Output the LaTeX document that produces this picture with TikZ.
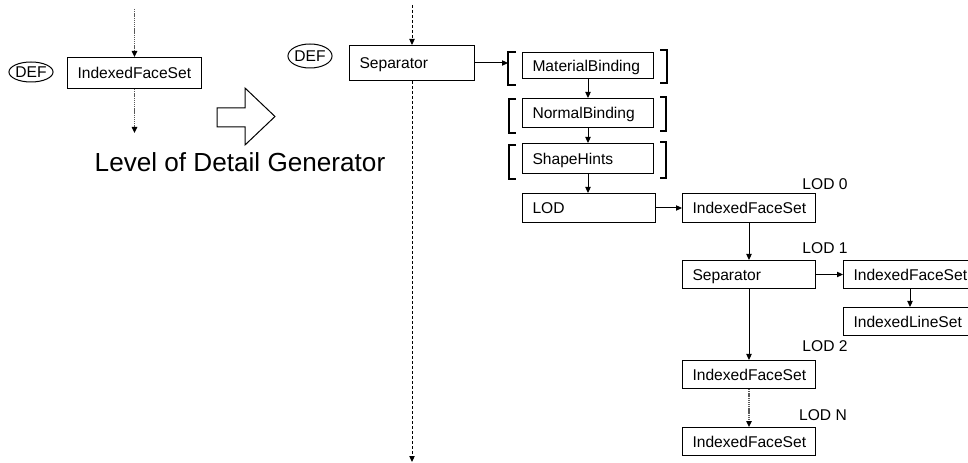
\documentclass[tikz,border=0pt]{standalone}
\usepackage{fontspec}
\setmainfont{Liberation Sans}
\usetikzlibrary{arrows.meta,calc,shapes.geometric}
\begin{document}
\begin{tikzpicture}[x=0.75pt,y=-0.75pt,
  every node/.style={font=\fontsize{11.7pt}{13pt}\selectfont},
  box/.style={draw, line width=0.75pt, rectangle, anchor=north west, inner xsep=7.5pt, inner ysep=0pt, align=left, text height=8.3pt, text depth=0pt},
  wa/.style={text width=84.75pt},
  wb/.style={text width=83.25pt},
  wc/.style={text width=85.5pt},
  wd/.style={text width=78.75pt},
  defnode/.style={draw, ellipse, line width=0.75pt, inner sep=0pt, minimum width=31.5pt, minimum height=15pt, text height=8.3pt, text depth=0pt},
  lbl/.style={inner sep=0pt, text height=8.3pt, text depth=0pt},
  tipa/.style={-{Triangle[length=4.5pt,width=4pt,color=black]}},
  arr/.style={tipa, line width=0.75pt},
  dots/.style={tipa, gray!70!black, dash pattern=on 1pt off 0.6pt, line width=1pt},
  dsh/.style={tipa, dash pattern=on 2.25pt off 1.5pt, line width=0.75pt},
  brk/.style={line width=1.1pt, line join=miter},
  brkb/.style={line width=2.2pt, line join=miter}
]
\useasboundingbox (0,0) rectangle (968,463);
\clip (0,0) rectangle (968,463);

% left part
\node[defnode] (defA) at (31,72) {DEF};
\node[box, wc, minimum height=23.25pt] (ifsA) at (67,57) {IndexedFaceSet};
\coordinate (topA) at ($(ifsA.north)+(0,-48)$);
\coordinate (botA) at ($(ifsA.south)+(0,44)$);
\draw[dots] (topA) -- (ifsA.north);
\draw[dots] (ifsA.south) -- (botA);

\draw[line width=0.75pt] (217,108) -- (245,108) -- (245,88) -- (275,116.5) -- (245,145) -- (245,127) -- (217,127) -- cycle;
\node[inner sep=0pt, font=\fontsize{19.6pt}{24pt}\selectfont, text height=14pt, text depth=0pt] (title) at (240,162) {Level of Detail Generator};

% right part
\node[defnode, minimum height=18pt] (defB) at (310,56) {DEF};
\node[box, wd, minimum height=26.25pt] (sepA) at (349,45) {Separator};
\coordinate (topB) at ($(sepA.north)+(0,-40)$);
\coordinate (botB) at ($(sepA.south)+(0,381)$);
\draw[dsh] (topB) -- (sepA.north);
\draw[dsh] (sepA.south) -- (botB);

\node[box, wb, minimum height=19.5pt] (mat) at (522,52) {MaterialBinding};
\node[box, wb, minimum height=21.75pt] (nor) at (522,98) {NormalBinding};
\node[box, wb, minimum height=22.5pt] (sha) at (522,143) {ShapeHints};
\node[box, wa, minimum height=21.75pt] (lod) at (522,193) {LOD};
\node[box, wa, minimum height=21.75pt] (ifs0) at (682,193) {IndexedFaceSet};
\node[box, wa, minimum height=21pt] (sep2) at (682,260) {Separator};
\node[box, wa, minimum height=21pt] (ifs1) at (843,260) {IndexedFaceSet};
\node[box, wa, minimum height=21pt] (ils) at (843,307) {IndexedLineSet};
\node[box, wa, minimum height=21pt] (ifs2) at (682,360) {IndexedFaceSet};
\node[box, wa, minimum height=21pt] (ifsN) at (682,427) {IndexedFaceSet};

% brackets
\draw[brkb] ($(mat.north west)+(-6,0)$) -- ++(-8,0) |- ($(mat.south west)+(-6,6)$);
\draw[brkb] ($(mat.north east)+(6,-2)$) -- ++(7,0) |- ($(mat.south east)+(6,4)$);
\draw[brk] ($(nor.north west)+(-6,1)$) -- ++(-7,0) |- ($(nor.south west)+(-6,5)$);
\draw[brk] ($(nor.north east)+(6,-1)$) -- ++(6,0) |- ($(nor.south east)+(6,3)$);
\draw[brk] ($(sha.north west)+(-6,2)$) -- ++(-7,0) |- ($(sha.south west)+(-6,5)$);
\draw[brk] ($(sha.north east)+(6,-1)$) -- ++(6,0) |- ($(sha.south east)+(6,4)$);

\coordinate (mbL) at ($(mat.west)+(-14,0)$);
\draw[arr] (sepA.east) -- (sepA.east -| mbL);
\draw[arr] (mat.south) -- (nor.north);
\draw[arr] (nor.south) -- (sha.north);
\draw[arr] (sha.south) -- (sha.south |- lod.north);
\draw[arr] (lod.east) -- (ifs0.west);
\draw[arr] (ifs0.south) -- (sep2.north);
\draw[arr] (sep2.east) -- (ifs1.west);
\draw[arr] (ifs1.south) -- (ils.north);
\draw[arr] (sep2.south) -- (ifs2.north);
\draw[dots] (ifs2.south) -- (ifsN.north);

% LOD labels
\node[lbl] (l0) at (825,184) {LOD 0};
\node[lbl] (l1) at (825,247.5) {LOD 1};
\node[lbl] (l2) at (825,346) {LOD 2};
\node[lbl] (lN) at (823,415) {LOD N};
\end{tikzpicture}
\end{document}
